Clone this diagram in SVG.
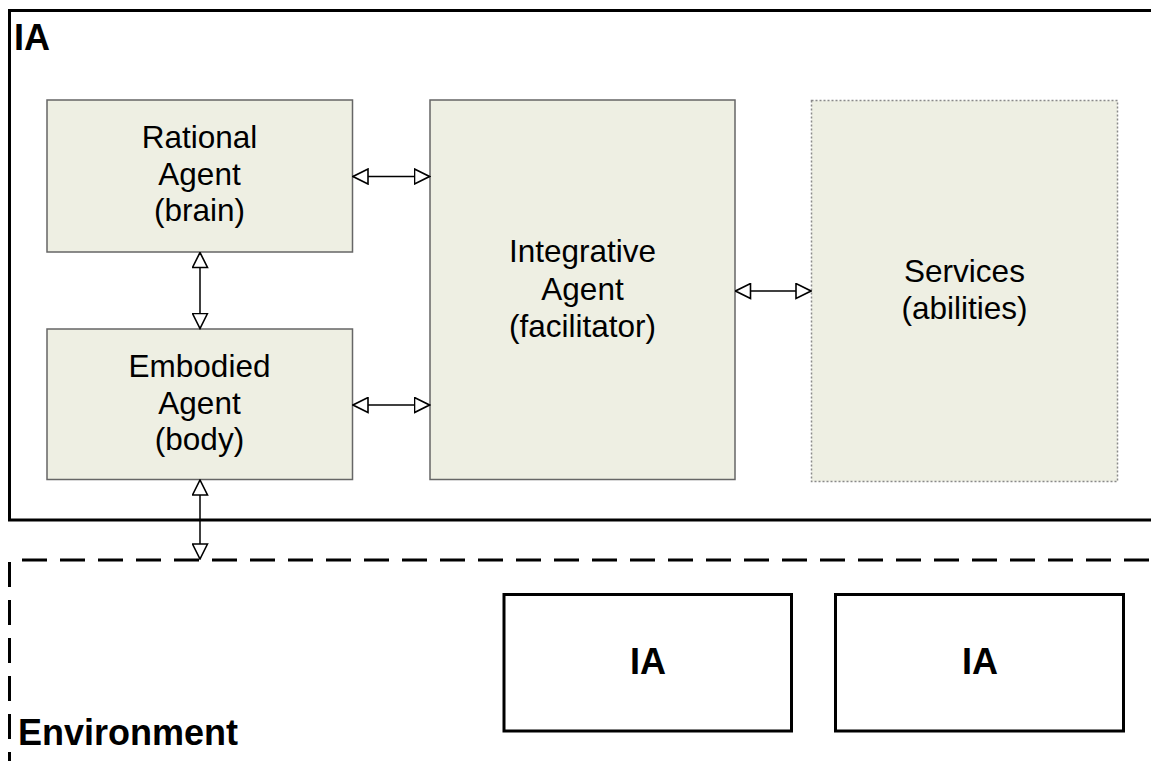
<svg xmlns="http://www.w3.org/2000/svg" width="1151" height="761" viewBox="0 0 1151 761">
  <style>
    .agent { fill: #eeefe3; stroke: #666666; stroke-width: 1.5; }
    .service { fill: #eeefe3; stroke: #8a8a8a; stroke-width: 1.5; stroke-dasharray: 2 2; }
    .frame { fill: none; stroke: #000000; stroke-width: 3; }
    .peer { fill: #ffffff; stroke: #000000; stroke-width: 3; }
    .label { font-family: "Liberation Sans", Arial, sans-serif; font-size: 31.5px; fill: #000000; text-anchor: middle; }
    .title { font-family: "Liberation Sans", Arial, sans-serif; font-size: 36px; font-weight: bold; fill: #000000; }
    .link { stroke: #000000; stroke-width: 1.5; fill: none; marker-start: url(#tri); marker-end: url(#tri); }
  </style>
  <defs>
    <marker id="tri" viewBox="0 0 17 17" refX="16" refY="8.5" markerWidth="17" markerHeight="17" markerUnits="userSpaceOnUse" orient="auto-start-reverse">
      <path d="M1,1 L16,8.5 L1,16 Z" fill="#ffffff" stroke="#000000" stroke-width="1.6" stroke-linejoin="miter"/>
    </marker>
  </defs>

  <rect width="1151" height="761" fill="#ffffff"/>

  <!-- IA container -->
  <g id="ia-frame">
    <rect class="frame" x="9.5" y="10.5" width="1160" height="509.5"/>
    <text class="title" x="14" y="50">IA</text>
  </g>

  <!-- Environment container (dashed, open to the right and bottom) -->
  <g id="environment">
    <line x1="9.5" y1="560" x2="1160" y2="560" stroke="#000" stroke-width="3" stroke-dasharray="25 13" stroke-dashoffset="25.5"/>
    <line x1="9.5" y1="560" x2="9.5" y2="770" stroke="#000" stroke-width="3" stroke-dasharray="25 13" stroke-dashoffset="36"/>
    <text class="title" x="18" y="745">Environment</text>
  </g>

  <g id="rational-agent">
    <rect class="agent" x="47" y="100" width="305.5" height="152"/>
    <text class="label" x="199.5" y="148">Rational</text>
    <text class="label" x="199.5" y="184.5">Agent</text>
    <text class="label" x="199.5" y="221">(brain)</text>
  </g>

  <g id="embodied-agent">
    <rect class="agent" x="47" y="329" width="305.5" height="150.5"/>
    <text class="label" x="199.5" y="377">Embodied</text>
    <text class="label" x="199.5" y="413.5">Agent</text>
    <text class="label" x="199.5" y="450">(body)</text>
  </g>

  <g id="integrative-agent">
    <rect class="agent" x="430" y="100" width="305" height="379.5"/>
    <text class="label" x="582.5" y="262">Integrative</text>
    <text class="label" x="582.5" y="299.5">Agent</text>
    <text class="label" x="582.5" y="337">(facilitator)</text>
  </g>

  <g id="services">
    <rect class="service" x="811.5" y="100.5" width="306" height="381"/>
    <text class="label" x="964.5" y="282">Services</text>
    <text class="label" x="964.5" y="318.5">(abilities)</text>
  </g>

  <g id="peer-ia-1">
    <rect class="peer" x="504" y="594.5" width="287.5" height="136.5"/>
    <text class="title" x="648" y="674" text-anchor="middle">IA</text>
  </g>

  <g id="peer-ia-2">
    <rect class="peer" x="835.5" y="594.5" width="288" height="136.5"/>
    <text class="title" x="980" y="674" text-anchor="middle">IA</text>
  </g>

  <!-- connectors -->
  <g id="connectors">
    <line class="link" x1="353" y1="176.5" x2="429.5" y2="176.5"/>
    <line class="link" x1="353" y1="405" x2="429.5" y2="405"/>
    <line class="link" x1="735.5" y1="291" x2="811" y2="291"/>
    <line class="link" x1="200" y1="252.5" x2="200" y2="328.5"/>
    <line class="link" x1="200" y1="480" x2="200" y2="559"/>
  </g>
</svg>
